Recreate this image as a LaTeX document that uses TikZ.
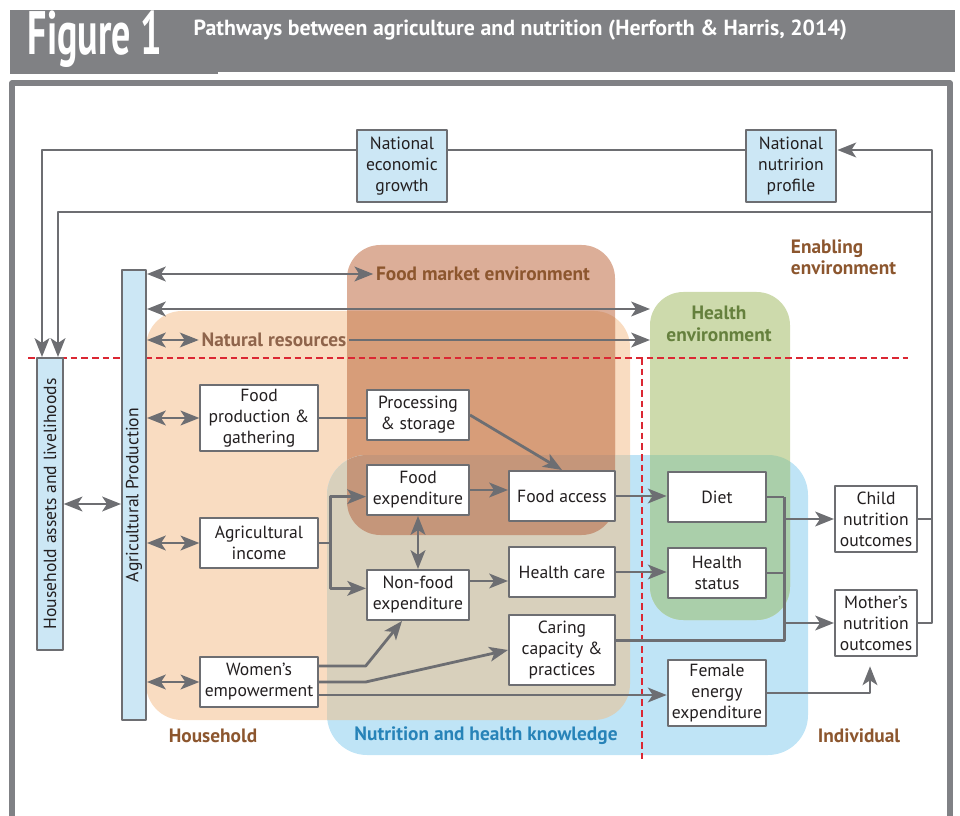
\documentclass[tikz,border=0pt]{standalone}
\usepackage{fontspec}
\setmainfont{PT Sans}
\newfontfamily\narrowfont[FakeStretch=0.62]{PT Sans}
\usetikzlibrary{arrows.meta}

\definecolor{titlegray}{RGB}{128,129,132}
\definecolor{framegray}{RGB}{128,129,133}
\definecolor{linegray}{RGB}{109,110,114}
\definecolor{boxblue}{RGB}{204,231,245}
\definecolor{txtdark}{RGB}{35,31,32}
\definecolor{peach}{RGB}{249,220,193}
\definecolor{fmtop}{RGB}{220,174,152}
\definecolor{fmpeach}{RGB}{215,157,121}
\definecolor{nhblue}{RGB}{191,228,246}
\definecolor{nhtan}{RGB}{216,208,188}
\definecolor{nhfm}{RGB}{197,150,122}
\definecolor{hegreen}{RGB}{205,218,172}
\definecolor{hgblue}{RGB}{170,207,170}
\definecolor{brownlbl}{RGB}{140,86,46}
\definecolor{natbrown}{RGB}{143,100,75}
\definecolor{greenlbl}{RGB}{101,128,61}
\definecolor{bluelbl}{RGB}{39,131,184}
\definecolor{dashred}{RGB}{219,39,51}

\tikzset{
  lnk/.style={draw=linegray, line width=2.1pt},
  arr/.style={lnk, -{Stealth[length=14pt,width=11pt,inset=3.5pt]}},
  dbl/.style={lnk, {Stealth[length=14pt,width=11pt,inset=3.5pt]}-{Stealth[length=14pt,width=11pt,inset=3.5pt]}},
  box/.style={draw=linegray, line width=1.5pt, fill=white, text=txtdark, align=center, inner sep=0pt, font=\fontsize{13.2}{15.75}\selectfont},
  bluebox/.style={box, fill=boxblue},
  lbl/.style={font=\bfseries\fontsize{14.5}{16}\selectfont, inner sep=2pt},
  reddash/.style={draw=dashred, line width=1.2pt, dash pattern=on 5pt off 3pt},
}

\begin{document}
\begin{tikzpicture}[x=0.75pt,y=-0.75pt,line join=round]
\useasboundingbox (0,0) rectangle (960,816);
% title bar and frame
\fill[titlegray] (10,10) rectangle (955,72);
\fill[titlegray] (10,72) rectangle (218,74);
\node[text=white, font=\narrowfont\bfseries\fontsize{46}{46}\selectfont] (fignum) at (95,39) {Figure 1};
\node[anchor=west, text=white, font=\bfseries\fontsize{16.4}{18}\selectfont] (figtitle) at (189,30) {Pathways between agriculture and nutrition (Herforth \& Harris, 2014)};
\draw[framegray, line width=4pt] (12,830) -- (12,83) -- (950,83) -- (950,830);

% shaded environments
\fill[peach, rounded corners=27pt] (146,311) rectangle (630,720);
\fill[fmtop, rounded corners=25pt] (347,245) rectangle (615,535);
\begin{scope}
  \clip[rounded corners=27pt] (146,311) rectangle (630,720);
  \fill[fmpeach, rounded corners=25pt] (347,245) rectangle (615,535);
\end{scope}
\fill[nhblue, rounded corners=30pt] (327,455) rectangle (808,755);
\begin{scope}
  \clip[rounded corners=30pt] (327,455) rectangle (808,755);
  \fill[nhtan, rounded corners=27pt] (146,311) rectangle (630,720);
  \clip[rounded corners=27pt] (146,311) rectangle (630,720);
  \fill[nhfm, rounded corners=25pt] (347,245) rectangle (615,535);
\end{scope}
\fill[hegreen, rounded corners=25pt] (650,292) rectangle (790,620);
\begin{scope}
  \clip[rounded corners=25pt] (650,292) rectangle (790,620);
  \fill[hgblue, rounded corners=30pt] (327,455) rectangle (808,755);
\end{scope}

\draw[reddash] (28,358) -- (908,358);
\draw[reddash] (642,358) -- (642,762);

% labels
\node[lbl, text=brownlbl] (fme) at (483,274) {Food market environment};
\node[lbl, text=natbrown] (natres) at (274,340) {Natural resources};
\node[lbl, text=greenlbl, align=center] (hev) at (719,324) {Health\\environment};
\node[lbl, text=brownlbl, align=left, anchor=west] (enab) at (788,257) {Enabling\\environment};
\node[lbl, text=brownlbl] (hhl) at (213,736) {Household};
\node[lbl, text=bluelbl] (nhk) at (486,736) {Nutrition and health knowledge};
\node[lbl, text=brownlbl] (indl) at (859,736) {Individual};

% boxes
\node[bluebox, minimum width=67.5pt, minimum height=54pt] (neg) at (402,166) {National\\economic\\growth};
\node[bluebox, minimum width=68pt, minimum height=54pt] (nnp) at (791,166) {National\\nutririon\\profile};
\node[bluebox, rotate=90, minimum width=219pt, minimum height=19pt] (hha) at (50,504) {Household assets and livelihoods};
\node[bluebox, rotate=90, minimum width=337.5pt, minimum height=18pt] (agp) at (134,495) {Agricultural Production};

\node[box, minimum width=88pt, minimum height=50pt] (fpg) at (259,418) {Food\\production \&\\gathering};
\node[box, minimum width=76.5pt, minimum height=37.5pt] (proc) at (418,415) {Processing\\\& storage};
\node[box, minimum width=76.5pt, minimum height=37.5pt] (fexp) at (418,490) {Food\\expenditure};
\node[box, minimum width=79.5pt, minimum height=37.5pt] (facc) at (562,496) {Food access};
\node[box, minimum width=88pt, minimum height=37.5pt] (aginc) at (259,543) {Agricultural\\income};
\node[box, minimum width=76.5pt, minimum height=37.5pt] (nfexp) at (418,595) {Non-food\\expenditure};
\node[box, minimum width=79.5pt, minimum height=37.5pt] (hcare) at (562,572) {Health care};
\node[box, minimum width=79.5pt, minimum height=52pt] (caring) at (562,650) {Caring\\capacity \&\\practices};
\node[box, minimum width=88pt, minimum height=37.5pt] (women) at (259,682) {Women’s\\empowerment};
\node[box, minimum width=74pt, minimum height=37.5pt] (diet) at (717,497) {Diet};
\node[box, minimum width=74pt, minimum height=37.5pt] (hstat) at (717,573) {Health\\status};
\node[box, minimum width=74pt, minimum height=49.5pt] (fee) at (717,693) {Female\\energy\\expenditure};
\node[box, minimum width=61.5pt, minimum height=49.5pt] (child) at (876,519) {Child\\nutrition\\outcomes};
\node[box, minimum width=61.5pt, minimum height=49.5pt] (mother) at (876,623) {Mother’s\\nutrition\\outcomes};

\coordinate (rt) at (932,150);
\coordinate (rb) at (932,212);
\coordinate (henvA) at (650,309);
\coordinate (henvB) at (650,340);

% feedback loops
\draw[arr] ([yshift=12pt]neg.west) -| ([xshift=-6pt]hha.east);
\draw[lnk] ([yshift=12pt]neg.east) -- ([yshift=12pt]nnp.west);
\draw[arr] (mother.east) -| (rt) -- ([yshift=12pt]nnp.east);
\draw[lnk] (child.east) -- (child.east -| rt);
\draw[arr] (rb) -| ([xshift=6pt]hha.east);

% household links
\draw[dbl] (hha.south) -- (hha.south -| agp.north);
\draw[dbl] (agp.south |- fme.west) -- (fme.west);
\draw[dbl] (agp.south |- henvA) -- (henvA);
\draw[dbl] (agp.south |- natres.west) -- (natres.west);
\draw[arr] (natres.east) -- (henvB);
\draw[dbl] (agp.south |- fpg.west) -- (fpg.west);
\draw[dbl] (agp.south |- aginc.west) -- (aginc.west);
\draw[dbl] (agp.south |- women.west) -- (women.west);

\draw[lnk] (fpg.east) -- (fpg.east -| proc.west);
\draw[arr] (proc.east) -- (facc.north);
\draw[arr] (fexp.east) -- (fexp.east -| facc.west);
\draw[lnk] (aginc.east) -- ++(12,0) coordinate (aibr);
\draw[arr] (aibr) |- ([yshift=-5pt]fexp.west);
\draw[arr] (aibr) |- ([yshift=5pt]nfexp.west);
\draw[dbl] (fexp.south) -- (nfexp.north);
\draw[arr] ([yshift=10.5pt]nfexp.east) -- ([yshift=10.5pt]nfexp.east -| hcare.west);
\draw[arr] ([yshift=12pt]women.east) -- ++(47,0) -- ([xshift=-12pt]nfexp.south);
\draw[arr] (women.east) -- ++(47,0) -- (caring.west);
\draw[arr] ([yshift=-9.75pt]women.east) -- ([yshift=-9.75pt]women.east -| fee.west);

% individual links
\draw[arr] (facc.east) -- (facc.east -| diet.west);
\draw[arr] (hcare.east) -- (hcare.east -| hstat.west);
\draw[lnk] (diet.east) -- ++(17,0) coordinate (busT);
\draw[lnk] ([yshift=7pt]caring.east) -| (busT);
\draw[lnk] (hstat.east) -- (hstat.east -| busT);
\draw[arr] (busT |- child.west) -- (child.west);
\draw[arr] (busT |- mother.west) -- (mother.west);
\draw[arr, shorten >=7pt] (fee.east) -| ([xshift=-4.5pt]mother.south);
\end{tikzpicture}
\end{document}
